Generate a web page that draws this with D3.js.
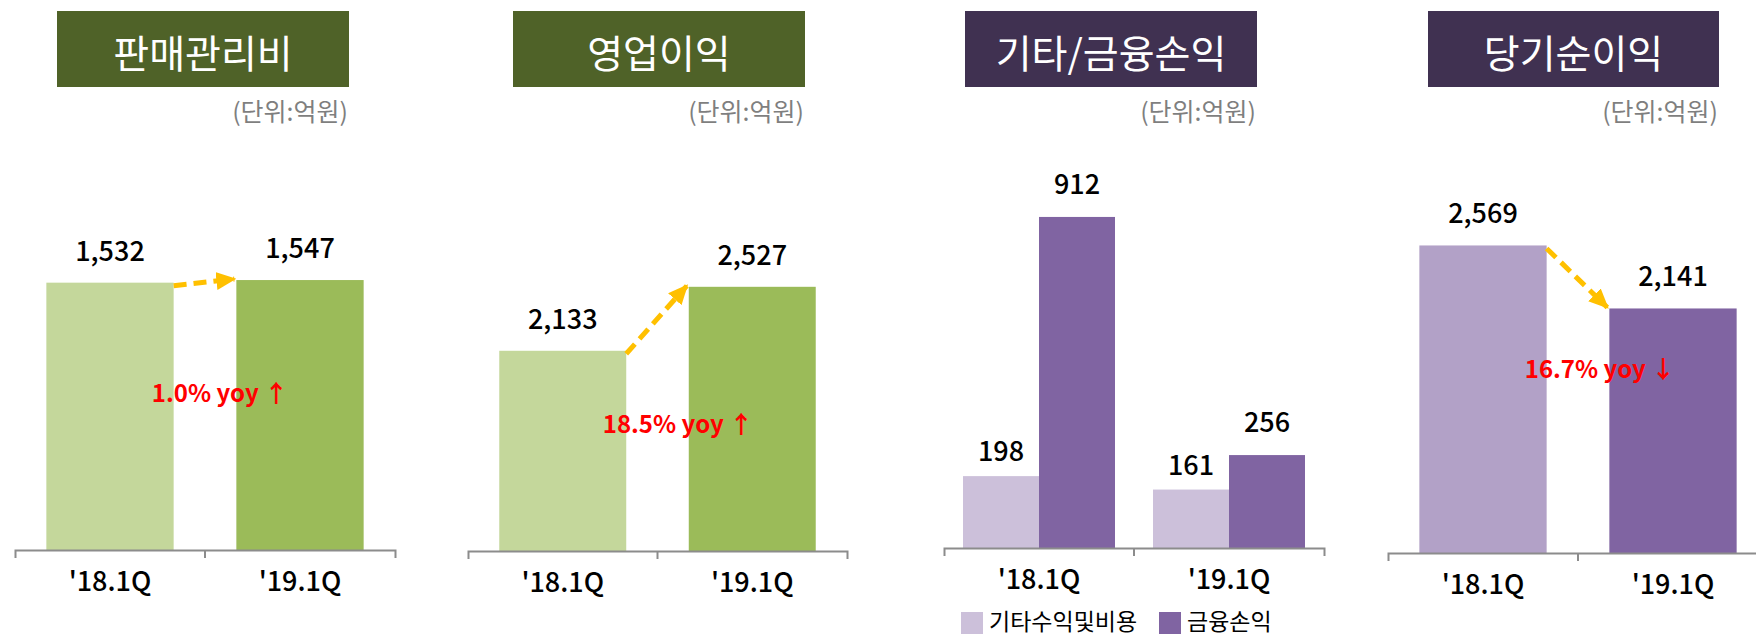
<!DOCTYPE html>
<html>
<head>
<meta charset="utf-8">
<script src="https://cdn.jsdelivr.net/npm/d3@7/dist/d3.min.js"></script>
<style>
  html, body { margin: 0; padding: 0; background: #fff; }
  svg { display: block; }
</style>
</head>
<body>
<svg id="chart"></svg>
<script>
// ---- data ----
const categories = ["'18.1Q", "'19.1Q"];
const titles = ['판매관리비', '영업이익', '기타/금융손익', '당기순이익'];
const unitLabel = '(단위:억원)';
const sgaValues = [1532, 1547];
const opProfitValues = [2133, 2527];
const otherValues = [198, 161];
const financeValues = [912, 256];
const netProfitValues = [2569, 2141];
const yoyLabels = ['1.0% yoy ↑', '18.5% yoy ↑', null, '16.7% yoy ↓'];
const seriesNames = ['기타수익및비용', '금융손익'];
const yDomains = [[0, 2000], [900, 3000], [0, 1000], [480, 3000]];

// ---- layout ----
const WIDTH = 1756;
const HEIGHT = 636;
const FONT = '"Noto Sans CJK KR", "Noto Sans", sans-serif';

const panels = [
  { box: [57, 349], axis: [15, 395], bottom: 550, top: 201, head: '#4F6228', colors: ['#C4D79B', '#9BBB59'], yoy: [220, 402] },
  { box: [513, 805], axis: [468, 847], bottom: 551, top: 210, head: '#4F6228', colors: ['#C4D79B', '#9BBB59'], yoy: [678, 433] },
  { box: [965, 1257], axis: [944, 1324], bottom: 548, top: 185, head: '#403151', colors: ['#CCC0DA', '#8064A2'] },
  { box: [1428, 1719], axis: [1388, 1768], bottom: 553, top: 182, head: '#403151', colors: ['#B2A1C7', '#8064A2'], yoy: [1600, 378] }
];

const svg = d3.select('#chart')
  .attr('width', WIDTH)
  .attr('height', HEIGHT)
  .attr('font-family', FONT);

svg.append('defs').append('marker')
  .attr('id', 'arrowhead')
  .attr('markerUnits', 'userSpaceOnUse')
  .attr('viewBox', '0 0 20 18')
  .attr('refX', 18)
  .attr('refY', 9)
  .attr('markerWidth', 20)
  .attr('markerHeight', 18)
  .attr('orient', 'auto')
  .append('path')
  .attr('d', 'M0,0 L20,9 L0,18 Z')
  .attr('fill', '#FFC000');

function drawFrame(p, i) {
  svg.append('rect')
    .attr('x', p.box[0])
    .attr('y', 11)
    .attr('width', p.box[1] - p.box[0])
    .attr('height', 76)
    .attr('fill', p.head);

  svg.append('text')
    .text(titles[i])
    .attr('x', (p.box[0] + p.box[1]) / 2)
    .attr('y', 51)
    .attr('text-anchor', 'middle')
    .attr('dominant-baseline', 'central')
    .attr('font-size', 39)
    .attr('fill', '#fff');

  svg.append('text')
    .text(unitLabel)
    .attr('x', p.box[1] - 1)
    .attr('y', 121)
    .attr('text-anchor', 'end')
    .attr('font-size', 25)
    .attr('fill', '#7F7F7F');
}

function drawAxis(p, x) {
  const g = svg.append('g')
    .attr('transform', `translate(0, ${p.bottom})`)
    .call(d3.axisBottom(x).tickSize(0).tickSizeOuter(8).tickPadding(0));

  g.select('.domain')
    .attr('stroke', '#8C8C8C')
    .attr('stroke-width', 2);

  g.selectAll('.tick text')
    .attr('y', 41)
    .attr('dy', 0)
    .attr('font-family', FONT)
    .attr('font-size', 27)
    .attr('font-weight', 500)
    .attr('fill', '#000');

  // boundary tick between the two categories
  const mid = x(categories[1]) - x.step() * x.paddingInner() / 2;
  g.append('line')
    .attr('x1', mid).attr('x2', mid)
    .attr('y1', 0).attr('y2', 8)
    .attr('stroke', '#8C8C8C')
    .attr('stroke-width', 2);
}

function drawArrow(x, y, values) {
  const x0 = x(categories[0]) + x.bandwidth();
  const x1 = x(categories[1]);
  svg.append('line')
    .attr('x1', x0)
    .attr('y1', y(values[0]) + 3)
    .attr('x2', x1 - 2)
    .attr('y2', y(values[1]) - 1)
    .attr('stroke', '#FFC000')
    .attr('stroke-width', 5)
    .attr('stroke-dasharray', '13,7')
    .attr('marker-end', 'url(#arrowhead)');
}

function singlePanel(i, values) {
  const p = panels[i];
  drawFrame(p, i);

  const x = d3.scaleBand()
    .domain(categories)
    .range(p.axis)
    .paddingInner(0.33)
    .paddingOuter(0.165);

  const y = d3.scaleLinear()
    .domain(yDomains[i])
    .range([p.bottom, p.top]);

  svg.append('g')
    .selectAll('rect')
    .data(values)
    .enter()
    .append('rect')
    .attr('x', (d, j) => x(categories[j]))
    .attr('y', d => y(d))
    .attr('width', x.bandwidth())
    .attr('height', d => p.bottom - y(d))
    .attr('fill', (d, j) => p.colors[j]);

  drawAxis(p, x);

  svg.append('g')
    .selectAll('text')
    .data(values)
    .enter()
    .append('text')
    .text(d => d3.format(',')(d))
    .attr('x', (d, j) => x(categories[j]) + x.bandwidth() / 2)
    .attr('y', d => y(d) - 22)
    .attr('text-anchor', 'middle')
    .attr('font-size', 27)
    .attr('font-weight', 500)
    .attr('fill', '#000');

  drawArrow(x, y, values);

  svg.append('text')
    .text(yoyLabels[i])
    .attr('x', p.yoy[0])
    .attr('y', p.yoy[1])
    .attr('text-anchor', 'middle')
    .attr('font-size', 24)
    .attr('font-weight', 700)
    .attr('fill', '#FF0000');
}

function groupedPanel(i, series) {
  const p = panels[i];
  drawFrame(p, i);

  const x = d3.scaleBand()
    .domain(categories)
    .range(p.axis)
    .paddingInner(0.2)
    .paddingOuter(0.1);

  const xs = d3.scaleBand()
    .domain(seriesNames)
    .range([0, x.bandwidth()])
    .padding(0);

  const y = d3.scaleLinear()
    .domain(yDomains[i])
    .range([p.bottom, p.top]);

  const labelGap = [15, 23];

  series.forEach((vals, s) => {
    svg.append('g')
      .selectAll('rect')
      .data(vals)
      .enter()
      .append('rect')
      .attr('x', (d, j) => x(categories[j]) + xs(seriesNames[s]))
      .attr('y', d => y(d))
      .attr('width', xs.bandwidth())
      .attr('height', d => p.bottom - y(d))
      .attr('fill', p.colors[s]);

    svg.append('g')
      .selectAll('text')
      .data(vals)
      .enter()
      .append('text')
      .text(d => d3.format(',')(d))
      .attr('x', (d, j) => x(categories[j]) + xs(seriesNames[s]) + xs.bandwidth() / 2)
      .attr('y', d => y(d) - labelGap[s])
      .attr('text-anchor', 'middle')
      .attr('font-size', 27)
      .attr('font-weight', 500)
      .attr('fill', '#000');
  });

  drawAxis(p, x);

  // legend
  const legendX = [961, 1159];
  seriesNames.forEach((name, s) => {
    svg.append('rect')
      .attr('x', legendX[s])
      .attr('y', 612)
      .attr('width', 22)
      .attr('height', 22)
      .attr('fill', p.colors[s]);
    svg.append('text')
      .text(name)
      .attr('x', legendX[s] + 28)
      .attr('y', 630)
      .attr('font-size', 23)
      .attr('fill', '#000');
  });
}

singlePanel(0, sgaValues);
singlePanel(1, opProfitValues);
groupedPanel(2, [otherValues, financeValues]);
singlePanel(3, netProfitValues);
</script>
</body>
</html>
